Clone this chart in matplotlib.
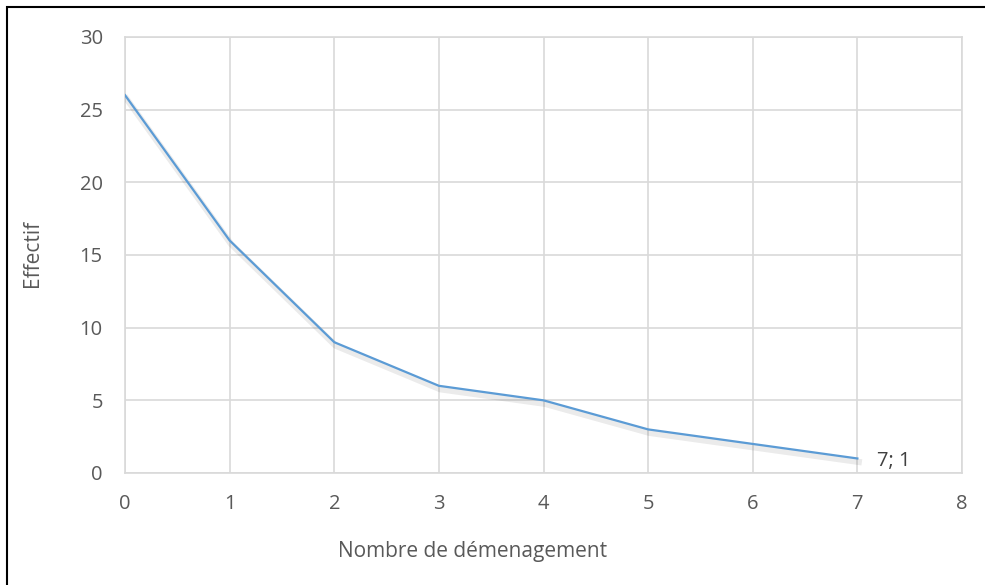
import matplotlib
matplotlib.use("Agg")
import matplotlib.pyplot as plt
import matplotlib.patheffects as pe
from matplotlib.patches import Rectangle

# Données
demenagements = [0, 1, 2, 3, 4, 5, 6, 7]
effectifs = [26, 16, 9, 6, 5, 3, 2, 1]
x_ticks = [0, 1, 2, 3, 4, 5, 6, 7, 8]
y_ticks = [0, 5, 10, 15, 20, 25, 30]

plt.rcParams["font.family"] = ["Open Sans", "DejaVu Sans"]

fig = plt.figure(figsize=(9.85, 5.85), dpi=100)
ax = fig.add_axes([125 / 985, 1 - 473 / 585, (962 - 125) / 985, (473 - 37) / 585])

ax.plot(demenagements, effectifs, color="#5B9BD5", lw=1.6, zorder=3,
        path_effects=[pe.SimpleLineShadow(offset=(1.0, -2.5), shadow_color="#000000",
                                          alpha=0.08, linewidth=4.5), pe.Normal()])

ax.annotate(f"{demenagements[-1]}; {effectifs[-1]}", (demenagements[-1], effectifs[-1]),
            xytext=(26, -2), textcoords="offset points", ha="center", va="center",
            fontsize=14.5, color="#404040")

ax.set_xlim(0, 8)
ax.set_ylim(0, 30)
ax.set_xticks(x_ticks)
ax.set_yticks(y_ticks)
ax.grid(True, color="#D9D9D9", lw=1.2)
ax.set_axisbelow(True)
for s in ax.spines.values():
    s.set_color("#D9D9D9")
    s.set_linewidth(1.2)
ax.tick_params(length=0, labelsize=14.5, labelcolor="#595959")
ax.tick_params(axis="x", pad=15)
ax.tick_params(axis="y", pad=16)

fig.text(473 / 985, 1 - 552 / 585, "Nombre de démenagement", ha="center", va="center",
         fontsize=15, color="#595959")
fig.text(32 / 985, 1 - 253 / 585, "Effectif", ha="center", va="center", rotation=90,
         fontsize=15, color="#595959")

# cadre noir
fig.patches.append(Rectangle((7 / 985, -0.1), 1.2, 1 - 7 / 585 + 0.1, transform=fig.transFigure,
                             fill=False, edgecolor="black", lw=1.5, figure=fig))

fig.savefig("out.png", dpi=100)
